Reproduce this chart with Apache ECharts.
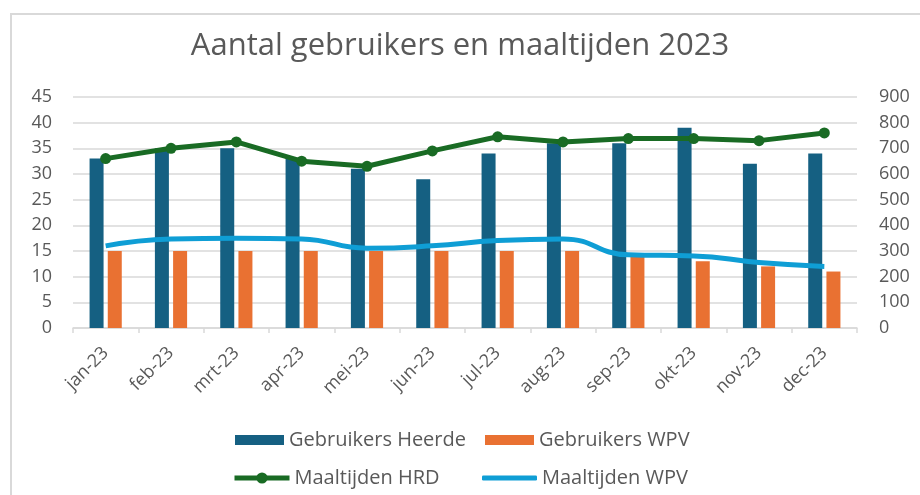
<!DOCTYPE html>
<html>
<head>
<meta charset="utf-8">
<script src="https://cdn.jsdelivr.net/npm/echarts@6/dist/echarts.min.js"></script>
<style>
  html, body { margin: 0; padding: 0; background: #fff; }
  #frame { position: absolute; left: 10px; top: 13px; width: 930px; height: 500px; border: 2px solid #d9d9d9; }
  #chart { position: absolute; left: 0; top: 0; width: 920px; height: 495px; }
</style>
</head>
<body>
<div id="frame"></div>
<div id="chart"></div>
<script>
  // maanden
  const months = ['jan-23', 'feb-23', 'mrt-23', 'apr-23', 'mei-23', 'jun-23', 'jul-23', 'aug-23', 'sep-23', 'okt-23', 'nov-23', 'dec-23'];
  // gebruikers (linker as)
  const gebruikersHeerde = [33, 35, 35, 33, 31, 29, 34, 36, 36, 39, 32, 34];
  const gebruikersWPV = [15, 15, 15, 15, 15, 15, 15, 15, 14, 13, 12, 11];
  // maaltijden (rechter as)
  const maaltijdenHRD = [660, 700, 725, 650, 630, 690, 745, 725, 738, 738, 730, 760];
  const maaltijdenWPV = [320, 347, 350, 347, 311, 320, 341, 347, 285, 281, 255, 240];

  const textColor = '#595959';
  const gridColor = '#d9d9d9';
  const font = 'Open Sans';

  function legendItem(item, left, top, w, h) {
    return {
      data: [item],
      left: left, top: top,
      itemWidth: w, itemHeight: h,
      lineStyle: { width: 5 },
      textStyle: { color: textColor, fontSize: 20, fontFamily: font },
      selectedMode: false
    }
  }

  const chart = echarts.init(document.getElementById('chart'));
  chart.setOption({
    animation: false,
    title: {
      text: 'Aantal gebruikers en maaltijden 2023',
      left: 'center', top: 26,
      textStyle: { color: textColor, fontSize: 31, fontWeight: 'normal', fontFamily: font }
    },
    legend: [
      legendItem({ name: 'Gebruikers Heerde', icon: 'rect' }, 230, 425, 49, 10),
      legendItem({ name: 'Gebruikers WPV', icon: 'rect' }, 480, 425, 49, 10),
      legendItem({ name: 'Maaltijden HRD' }, 227, 463, 55, 14),
      legendItem({ name: 'Maaltijden WPV', icon: 'roundRect' }, 477, 463, 55, 5)
    ],
    grid: { left: 73, right: 63, top: 97, bottom: 167 },
    xAxis: {
      type: 'category',
      data: months,
      axisLine: { lineStyle: { color: gridColor, width: 1.5 } },
      axisTick: { show: true, length: 5, lineStyle: { color: gridColor, width: 1.5 } },
      axisLabel: { rotate: 45, color: textColor, fontSize: 18, fontFamily: font, margin: 22 }
    },
    yAxis: [
      {
        type: 'value', min: 0, max: 45, interval: 5,
        axisLabel: { color: textColor, fontSize: 18, fontFamily: font, margin: 21 },
        splitLine: { lineStyle: { color: gridColor, width: 1.5 } },
        axisLine: { show: false }, axisTick: { show: false }
      },
      {
        type: 'value', min: 0, max: 900, interval: 100,
        axisLabel: { color: textColor, fontSize: 18, fontFamily: font, margin: 22 },
        splitLine: { show: false },
        axisLine: { show: false }, axisTick: { show: false }
      }
    ],
    series: [
      {
        name: 'Gebruikers Heerde', type: 'bar', data: gebruikersHeerde,
        itemStyle: { color: '#156082' }, barWidth: 14, barGap: '30%'
      },
      {
        name: 'Gebruikers WPV', type: 'bar', data: gebruikersWPV,
        itemStyle: { color: '#e97132' }, barWidth: 14
      },
      {
        name: 'Maaltijden HRD', type: 'line', yAxisIndex: 1, data: maaltijdenHRD,
        symbol: 'circle', symbolSize: 11,
        lineStyle: { color: '#196b24', width: 5 },
        itemStyle: { color: '#196b24' }
      },
      {
        name: 'Maaltijden WPV', type: 'line', yAxisIndex: 1, data: maaltijdenWPV,
        symbol: 'none', smooth: true,
        lineStyle: { color: '#0f9ed5', width: 5 },
        itemStyle: { color: '#0f9ed5' }
      }
    ]
  });
</script>
</body>
</html>
